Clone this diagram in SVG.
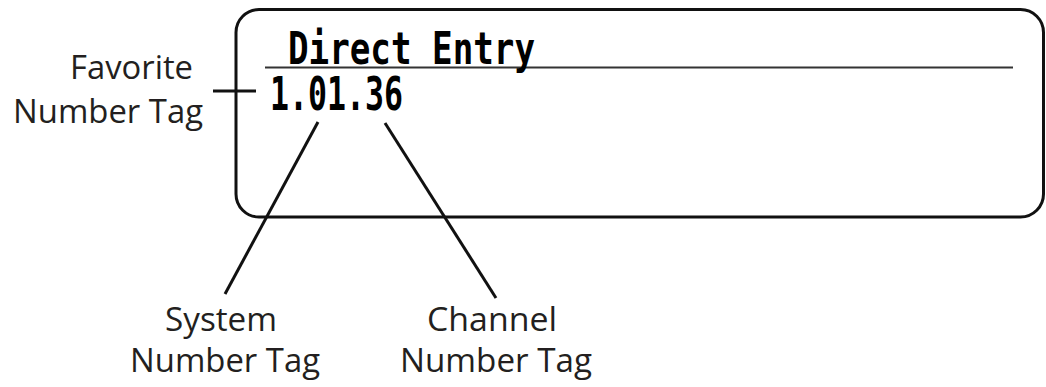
<svg xmlns="http://www.w3.org/2000/svg" width="1046" height="387" viewBox="0 0 1046 387">
<style>
.lbl{font-family:"Open Sans","Noto Sans",sans-serif;font-size:32px;fill:#231f20}
.lcd{font-family:"DejaVu Sans Mono","Liberation Mono",monospace;font-weight:bold;fill:#000}
.ln{stroke:#111;stroke-width:3;fill:none;stroke-linecap:butt}
</style>
<rect width="1046" height="387" fill="#fff"/>
<g id="display">
<rect x="236" y="9.5" width="807.5" height="207.5" rx="23" ry="23" fill="none" stroke="#111" stroke-width="3"/>
<line x1="265" y1="67.5" x2="1013" y2="67.5" stroke="#333" stroke-width="2"/>
<text class="lcd" x="288" y="64" font-size="44" textLength="247" lengthAdjust="spacingAndGlyphs">Direct Entry</text>
<text class="lcd" x="270" y="110" font-size="47" textLength="133" lengthAdjust="spacingAndGlyphs">1.01.36</text>
</g>
<g id="favorite-label">
<text class="lbl" x="193" y="79" text-anchor="end" textLength="123" lengthAdjust="spacingAndGlyphs">Favorite</text>
<text class="lbl" x="13" y="123" textLength="190" lengthAdjust="spacingAndGlyphs">Number Tag</text>
</g>
<g id="system-label">
<text class="lbl" x="165" y="331" textLength="112" lengthAdjust="spacingAndGlyphs">System</text>
<text class="lbl" x="130" y="372" textLength="190" lengthAdjust="spacingAndGlyphs">Number Tag</text>
</g>
<g id="channel-label">
<text class="lbl" x="427" y="331" textLength="130" lengthAdjust="spacingAndGlyphs">Channel</text>
<text class="lbl" x="400" y="372" textLength="192" lengthAdjust="spacingAndGlyphs">Number Tag</text>
</g>
<g id="connectors">
<line class="ln" x1="213" y1="91" x2="256" y2="91"/>
<line class="ln" x1="318" y1="122" x2="225" y2="294"/>
<line class="ln" x1="385" y1="123" x2="496" y2="298"/>
</g>
</svg>
